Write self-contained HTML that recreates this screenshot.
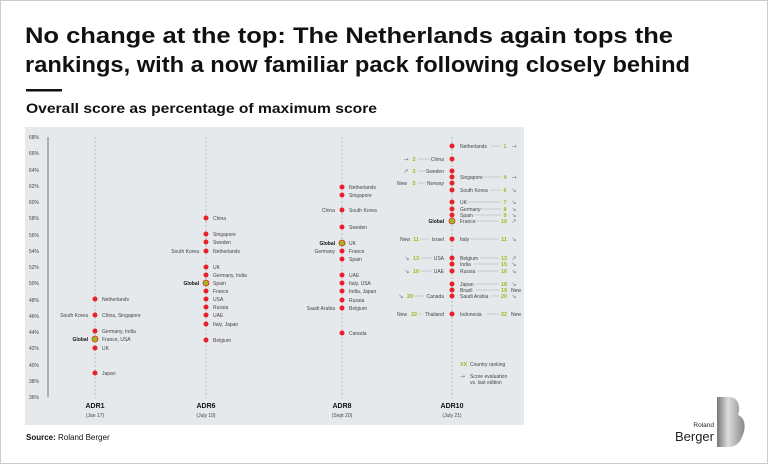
<!DOCTYPE html>
<html><head><meta charset="utf-8"><style>
html,body{margin:0;padding:0;background:#fff}
svg{display:block}
text{font-family:"Liberation Sans",sans-serif}
.s{font-size:5px;fill:#444}
.b{font-size:5px;fill:#111;font-weight:bold}
.t{font-size:5px;fill:#444}
.g{font-size:5.5px;fill:#9bbb1e;font-weight:bold}
.a{font-size:6px;fill:#777}
.a text, text.a{font-family:"DejaVu Sans",sans-serif}
</style></head><body>
<svg width="768" height="464" viewBox="0 0 768 464" xmlns="http://www.w3.org/2000/svg">
<rect x="0.5" y="0.5" width="767" height="463" fill="#fff" stroke="#ccc"/>
<text x="25" y="43" font-size="22" font-weight="bold" fill="#111" textLength="648" lengthAdjust="spacingAndGlyphs">No change at the top: The Netherlands again tops the</text>
<text x="25" y="72" font-size="22" font-weight="bold" fill="#111" textLength="665" lengthAdjust="spacingAndGlyphs">rankings, with a now familiar pack following closely behind</text>
<rect x="26" y="89" width="36" height="2.5" fill="#111"/>
<text x="26" y="113" font-size="14" font-weight="bold" fill="#111" textLength="351" lengthAdjust="spacingAndGlyphs">Overall score as percentage of maximum score</text>
<rect x="25" y="127" width="499" height="298" fill="#e6e9eb"/>
<line x1="48" y1="137" x2="48" y2="397" stroke="#555" stroke-width="0.8"/>
<g class="t" text-anchor="start">
<text x="29" y="139">68%</text><text x="29" y="155">66%</text><text x="29" y="172">64%</text><text x="29" y="188">62%</text><text x="29" y="204">60%</text><text x="29" y="220">58%</text><text x="29" y="237">56%</text><text x="29" y="253">54%</text><text x="29" y="269">52%</text><text x="29" y="285">50%</text><text x="29" y="302">48%</text><text x="29" y="318">46%</text><text x="29" y="334">44%</text><text x="29" y="350">42%</text><text x="29" y="367">40%</text><text x="29" y="383">38%</text><text x="29" y="399">36%</text>
</g>
<g stroke="#999" stroke-width="0.6" stroke-dasharray="2,2">
<line x1="95" y1="137" x2="95" y2="398"/><line x1="206" y1="137" x2="206" y2="398"/><line x1="342" y1="137" x2="342" y2="398"/><line x1="452" y1="137" x2="452" y2="398"/>
</g>
<g font-size="7" font-weight="bold" fill="#111" text-anchor="middle">
<text x="95" y="408">ADR1</text><text x="206" y="408">ADR6</text><text x="342" y="408">ADR8</text><text x="452" y="408">ADR10</text>
</g>
<g class="s" text-anchor="middle">
<text x="95" y="417">(Jan 17)</text><text x="206" y="417">(July 19)</text><text x="342" y="417">(Sept 20)</text><text x="452" y="417">(July 21)</text>
</g>
<g fill="#e8202a">
<circle cx="95" cy="299" r="2.5"/><circle cx="95" cy="315" r="2.5"/><circle cx="95" cy="331" r="2.5"/><circle cx="95" cy="348" r="2.5"/><circle cx="95" cy="373" r="2.5"/>
<circle cx="206" cy="218" r="2.5"/><circle cx="206" cy="234" r="2.5"/><circle cx="206" cy="242" r="2.5"/><circle cx="206" cy="251" r="2.5"/><circle cx="206" cy="267" r="2.5"/><circle cx="206" cy="275" r="2.5"/><circle cx="206" cy="291" r="2.5"/><circle cx="206" cy="299" r="2.5"/><circle cx="206" cy="307" r="2.5"/><circle cx="206" cy="315" r="2.5"/><circle cx="206" cy="324" r="2.5"/><circle cx="206" cy="340" r="2.5"/>
<circle cx="342" cy="187" r="2.5"/><circle cx="342" cy="195" r="2.5"/><circle cx="342" cy="210" r="2.5"/><circle cx="342" cy="227" r="2.5"/><circle cx="342" cy="251" r="2.5"/><circle cx="342" cy="259" r="2.5"/><circle cx="342" cy="275" r="2.5"/><circle cx="342" cy="283" r="2.5"/><circle cx="342" cy="291" r="2.5"/><circle cx="342" cy="300" r="2.5"/><circle cx="342" cy="308" r="2.5"/><circle cx="342" cy="333" r="2.5"/>
<circle cx="452" cy="146" r="2.5"/><circle cx="452" cy="159" r="2.5"/><circle cx="452" cy="171" r="2.5"/><circle cx="452" cy="177" r="2.5"/><circle cx="452" cy="183" r="2.5"/><circle cx="452" cy="190" r="2.5"/><circle cx="452" cy="202" r="2.5"/><circle cx="452" cy="209" r="2.5"/><circle cx="452" cy="215" r="2.5"/><circle cx="452" cy="239" r="2.5"/><circle cx="452" cy="258" r="2.5"/><circle cx="452" cy="264" r="2.5"/><circle cx="452" cy="271" r="2.5"/><circle cx="452" cy="284" r="2.5"/><circle cx="452" cy="290" r="2.5"/><circle cx="452" cy="296" r="2.5"/><circle cx="452" cy="314" r="2.5"/>
</g>
<g fill="#9bbb1e" stroke="#e8202a" stroke-width="0.8">
<circle cx="95" cy="339" r="3"/><circle cx="206" cy="283" r="3"/><circle cx="342" cy="243" r="3"/><circle cx="452" cy="221" r="3"/>
</g>
<g class="s">
<text x="102" y="301">Netherlands</text><text x="102" y="317">China, Singapore</text><text x="102" y="333">Germany, India</text><text x="102" y="341">France, USA</text><text x="102" y="350">UK</text><text x="102" y="375">Japan</text>
<text x="213" y="220">China</text><text x="213" y="236">Singapore</text><text x="213" y="244">Sweden</text><text x="213" y="253">Netherlands</text><text x="213" y="269">UK</text><text x="213" y="277">Germany, India</text><text x="213" y="285">Spain</text><text x="213" y="293">France</text><text x="213" y="301">USA</text><text x="213" y="309">Russia</text><text x="213" y="317">UAE</text><text x="213" y="326">Italy, Japan</text><text x="213" y="342">Belgium</text>
<text x="349" y="189">Netherlands</text><text x="349" y="197">Singapore</text><text x="349" y="212">South Korea</text><text x="349" y="229">Sweden</text><text x="349" y="245">UK</text><text x="349" y="253">France</text><text x="349" y="261">Spain</text><text x="349" y="277">UAE</text><text x="349" y="285">Italy, USA</text><text x="349" y="293">India, Japan</text><text x="349" y="302">Russia</text><text x="349" y="310">Belgium</text><text x="349" y="335">Canada</text>
<text x="460" y="148">Netherlands</text><text x="460" y="179">Singapore</text><text x="460" y="192">South Korea</text><text x="460" y="204">UK</text><text x="460" y="211">Germany</text><text x="460" y="217">Spain</text><text x="460" y="223">France</text><text x="460" y="241">Italy</text><text x="460" y="260">Belgium</text><text x="460" y="266">India</text><text x="460" y="273">Russia</text><text x="460" y="286">Japan</text><text x="460" y="292">Brazil</text><text x="460" y="298">Saudi Arabia</text><text x="460" y="316">Indonesia</text>
</g>
<g class="s" text-anchor="end">
<text x="88" y="317">South Korea</text><text x="199" y="253">South Korea</text><text x="335" y="212">China</text><text x="335" y="253">Germany</text><text x="335" y="310">Saudi Arabia</text>
<text x="444" y="161">China</text><text x="444" y="173">Sweden</text><text x="444" y="185">Norway</text><text x="444" y="241">Israel</text><text x="444" y="260">USA</text><text x="444" y="273">UAE</text><text x="444" y="298">Canada</text><text x="444" y="316">Thailand</text>
</g>
<g class="b" text-anchor="end">
<text x="88" y="341">Global</text><text x="199" y="285">Global</text><text x="335" y="245">Global</text><text x="444" y="223">Global</text>
</g>
<g stroke="#aaa" stroke-width="0.5">
<line x1="491" y1="146" x2="501" y2="146"/><line x1="484" y1="177" x2="501" y2="177"/><line x1="490" y1="190" x2="501" y2="190"/><line x1="467" y1="202" x2="501" y2="202"/><line x1="480" y1="209" x2="501" y2="209"/><line x1="474" y1="215" x2="501" y2="215"/><line x1="475" y1="221" x2="499" y2="221"/><line x1="470" y1="239" x2="499" y2="239"/><line x1="480" y1="258" x2="499" y2="258"/><line x1="474" y1="264" x2="499" y2="264"/><line x1="477" y1="271" x2="499" y2="271"/><line x1="475" y1="284" x2="499" y2="284"/><line x1="476" y1="290" x2="499" y2="290"/><line x1="491" y1="296" x2="499" y2="296"/><line x1="487" y1="314" x2="499" y2="314"/>
<line x1="418" y1="159" x2="430" y2="159"/><line x1="418" y1="171" x2="426" y2="171"/><line x1="418" y1="183" x2="425" y2="183"/><line x1="420" y1="239" x2="429" y2="239"/><line x1="420" y1="258" x2="432" y2="258"/><line x1="420" y1="271" x2="432" y2="271"/><line x1="414" y1="296" x2="424" y2="296"/><line x1="418" y1="314" x2="423" y2="314"/>
</g>
<g class="g" text-anchor="middle">
<text x="505" y="148">1</text><text x="505" y="179">4</text><text x="505" y="192">6</text><text x="505" y="204">7</text><text x="505" y="211">8</text><text x="505" y="217">9</text><text x="504" y="223">10</text><text x="504" y="241">11</text><text x="504" y="260">13</text><text x="504" y="266">15</text><text x="504" y="273">16</text><text x="504" y="286">18</text><text x="504" y="292">19</text><text x="504" y="298">20</text><text x="504" y="316">22</text>
<text x="414" y="161">2</text><text x="414" y="173">3</text><text x="414" y="185">5</text><text x="416" y="241">11</text><text x="416" y="260">13</text><text x="416" y="273">16</text><text x="410" y="298">20</text><text x="414" y="316">22</text>
</g>
<g class="a" text-anchor="middle">
<text x="514" y="148">→</text><text x="514" y="179">→</text><text x="514" y="192">↘</text><text x="514" y="204">↘</text><text x="514" y="211">↘</text><text x="514" y="217">↘</text><text x="514" y="223">↗</text><text x="514" y="241">↘</text><text x="514" y="260">↗</text><text x="514" y="266">↘</text><text x="514" y="273">↘</text><text x="514" y="286">↘</text><text x="514" y="298">↘</text>
<text x="406" y="161">→</text><text x="406" y="173">↗</text><text x="407" y="260">↘</text><text x="407" y="273">↘</text><text x="401" y="298">↘</text>
</g>
<g class="s" font-size="5.5">
<text x="511" y="292">New</text><text x="511" y="316">New</text>
<text x="397" y="185">New</text><text x="400" y="241">New</text><text x="397" y="316">New</text>
</g>
<text x="460" y="366" class="g" font-size="5">XX</text><text x="470" y="366" class="s" font-size="4.5">Country ranking</text>
<text x="460" y="378" class="a" font-size="5">→</text><text x="470" y="378" class="s" font-size="4.5">Score evaluation</text><text x="470" y="384" class="s" font-size="4.5">vs. last edition</text>
<text x="26" y="440" font-size="8" fill="#111"><tspan font-weight="bold">Source:</tspan> Roland Berger</text>
<text x="714" y="427" font-size="6.5" fill="#222" text-anchor="end">Roland</text>
<text x="714" y="441" font-size="13" fill="#222" text-anchor="end">Berger</text>
<defs><linearGradient id="gr" x1="0" x2="1"><stop offset="0" stop-color="#777"/><stop offset="0.4" stop-color="#ddd"/><stop offset="1" stop-color="#888"/></linearGradient></defs>
<path d="M717 397 h12 c9 0 12 9 9 18 c8 3 8 14 4 22 c-2 6 -7 10 -13 10 h-12 z" fill="url(#gr)"/>
</svg>
</body></html>
